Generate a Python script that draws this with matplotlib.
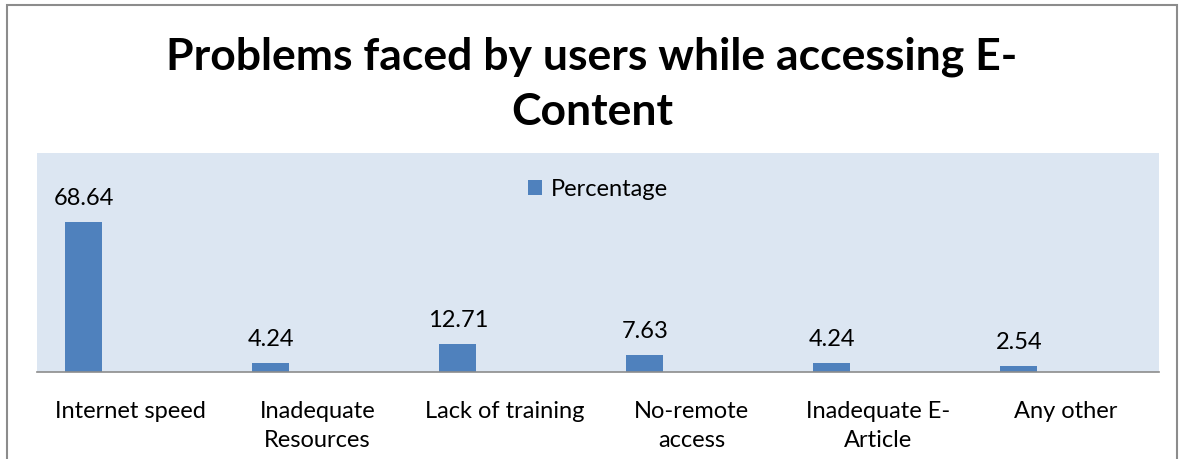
import matplotlib.pyplot as plt
from matplotlib.patches import Rectangle
import numpy as np

categories = ["Internet speed", "Inadequate\nResources", "Lack of training",
              "No-remote\naccess", "Inadequate E-\nArticle", "Any other"]
percentage = [68.64, 4.24, 12.71, 7.63, 4.24, 2.54]
value_labels = ["68.64", "4.24", "12.71", "7.63", "4.24", "2.54"]

plt.rcParams['font.family'] = ['Lato', 'DejaVu Sans']

fig = plt.figure(figsize=(11.84, 4.59), dpi=100)
fig.patch.set_facecolor("white")

# outer chart frame (bottom edge is cut off in the reference)
fig.patches.append(Rectangle((7 / 1184, -0.05), 1170 / 1184, 1.05 - 5 / 459,
                             transform=fig.transFigure, fill=False,
                             edgecolor="#8c8c8c", linewidth=1.5))

ax = fig.add_axes([37 / 1184, 1 - 372 / 459, 1122 / 1184, 219 / 459])
ax.set_facecolor("#dce6f2")

x = np.arange(len(categories))
bars = ax.bar(x - 0.25, percentage, width=0.2, color="#4f81bd", label="Percentage")

for xi, v, lab in zip(x, percentage, value_labels):
    ax.text(xi - 0.25, v + 6, lab, ha="center", va="bottom", fontsize=17, color="black")

ax.set_xlim(-0.5, len(categories) - 0.5)
ax.set_ylim(0, 100)
ax.set_xticks(x)
ax.set_xticklabels(categories, fontsize=17, linespacing=1.45)
ax.tick_params(axis="x", length=0, pad=21)
ax.set_yticks([])
for side in ["top", "right", "left"]:
    ax.spines[side].set_visible(False)
ax.spines["bottom"].set_color("#8c8c8c")
ax.spines["bottom"].set_linewidth(1.2)

ax.legend(loc="upper center", bbox_to_anchor=(0.5, 0.98), frameon=False,
          fontsize=17, handlelength=0.6, handleheight=0.6, handletextpad=0.4)

fig.text(0.5, 1 - 57 / 459, "Problems faced by users while accessing E-",
         ha="center", va="center", fontsize=32, fontweight="bold")
fig.text(0.5, 1 - 112 / 459, "Content",
         ha="center", va="center", fontsize=32, fontweight="bold")

fig.savefig("out.png", dpi=100)
